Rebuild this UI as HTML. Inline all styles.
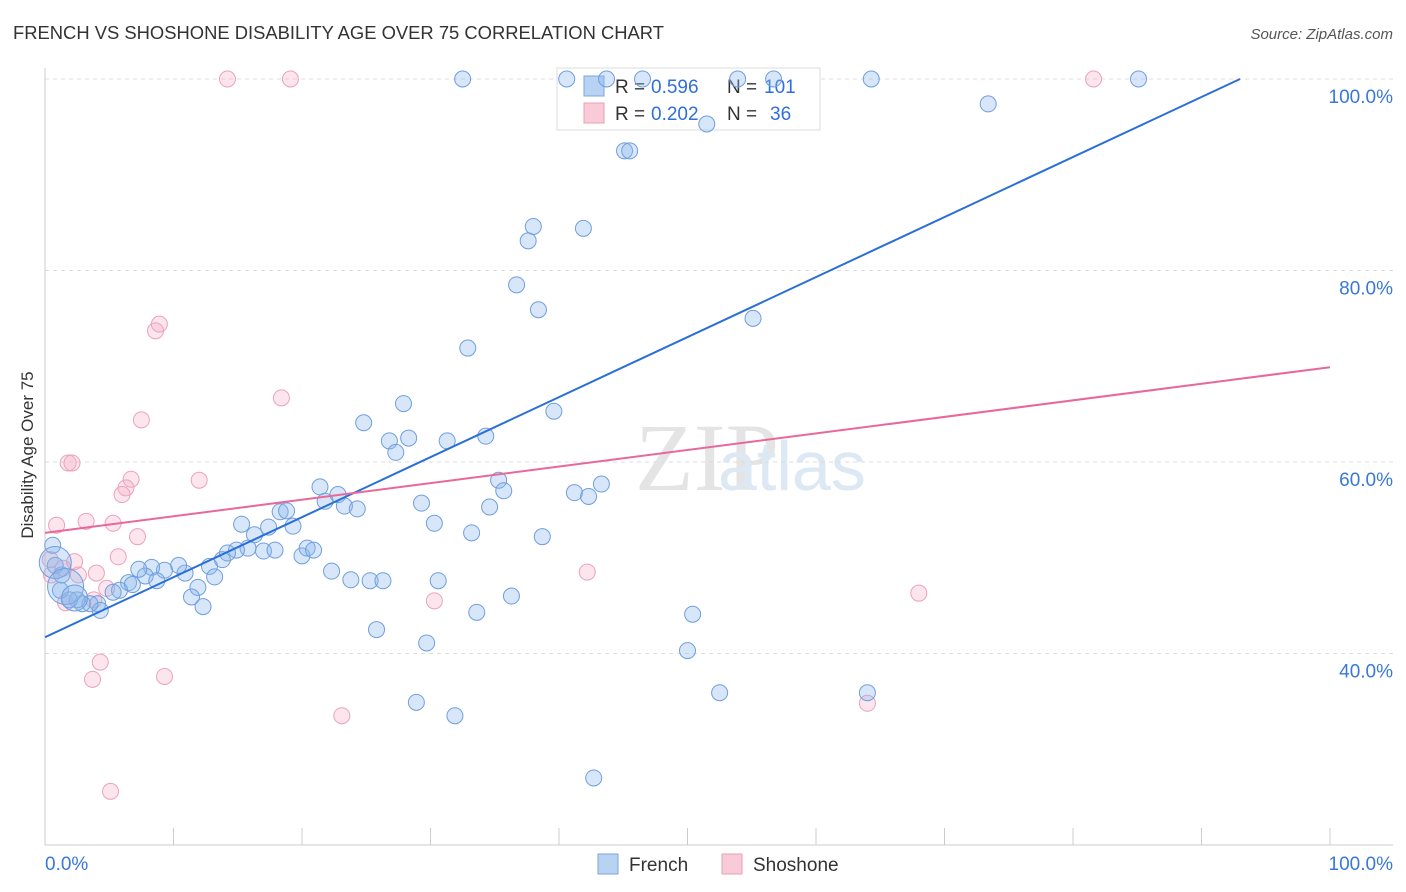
<!DOCTYPE html>
<html><head><meta charset="utf-8"><style>
body{margin:0;background:#fff;font-family:"Liberation Sans",sans-serif;}
svg{display:block}
</style></head><body>
<svg id="chart" width="1406" height="892">
<text x="13" y="39" font-size="18.4" fill="#333">FRENCH VS SHOSHONE DISABILITY AGE OVER 75 CORRELATION CHART</text>
<text x="1393" y="39" font-size="15" fill="#555" font-style="italic" text-anchor="end">Source: ZipAtlas.com</text>
<text x="33" y="455" font-size="17" fill="#333" transform="rotate(-90 33 455)" text-anchor="middle">Disability Age Over 75</text>
<text x="635" y="490" font-size="96" fill="#e4e4e4" font-family="Liberation Serif">ZIP</text>
<text x="718" y="490" font-size="70" fill="#dde8f5">atlas</text>
<g id="grid"></g><g id="axes"></g>
<g>
<rect x="557" y="68" width="263" height="62" fill="#fff" stroke="#ddd"/>
<rect x="584" y="76" width="20" height="20" fill="#b8d2f4" stroke="#7aa7e0"/>
<text x="615" y="93" font-size="19" fill="#333">R =</text><text x="651" y="93" font-size="19" fill="#2f6fd6">0.596</text>
<text x="727" y="93" font-size="19" fill="#333">N =</text><text x="764" y="93" font-size="19" fill="#2f6fd6">101</text>
<rect x="584" y="103" width="20" height="20" fill="#f9cad8" stroke="#e8a0b8"/>
<text x="615" y="120" font-size="19" fill="#333">R =</text><text x="651" y="120" font-size="19" fill="#2f6fd6">0.202</text>
<text x="727" y="120" font-size="19" fill="#333">N =</text><text x="770" y="120" font-size="19" fill="#2f6fd6">36</text>
</g>
<g id="pts"></g><g id="lines"></g>
<g><rect x="598" y="854" width="20" height="20" fill="#b8d2f4" stroke="#7aa7e0"/><text x="629" y="871" font-size="19" fill="#333">French</text></g>
<g><rect x="722" y="854" width="20" height="20" fill="#f9cad8" stroke="#e8a0b8"/><text x="753" y="871" font-size="19" fill="#333">Shoshone</text></g>
</svg>
<script>
const yTicks=[40,60,80,100];
const yTickLabels=["40.0%","60.0%","80.0%","100.0%"];
const xTickLabels=["0.0%","100.0%"];
const frenchX=[32.5,40.6,43.7,46.5,53.9,56.7,64.3,85.1,73.4,51.5,45.1,45.5,38.0,37.6,41.9,36.7,38.4,55.1,32.9,27.9,39.6,24.8,26.8,28.3,27.3,31.3,34.3,35.3,35.7,21.4,22.8,21.8,23.3,24.3,29.3,34.6,41.2,42.3,43.3,38.7,33.2,30.3,15.3,17.4,19.3,18.3,18.8,16.3,15.8,14.9,14.2,13.8,17.0,17.9,20.0,20.4,20.9,12.8,13.2,10.9,10.4,9.3,8.3,7.8,7.3,8.7,6.5,6.8,5.8,5.3,11.9,11.4,12.3,4.1,4.3,3.5,2.9,2.5,1.9,1.2,1.3,0.8,0.6,22.3,23.8,25.3,26.3,30.6,36.3,33.6,25.8,29.7,50.4,50.0,52.5,64.0,28.9,31.9,42.7,0.8,1.6,2.3];
const frenchY=[100,100,100,100,100,100,100,100,97.4,95.3,92.5,92.5,84.6,83.1,84.4,78.5,75.9,75.0,71.9,66.1,65.3,64.1,62.2,62.5,61.0,62.2,62.7,58.1,57.0,57.4,56.6,55.9,55.4,55.1,55.7,55.3,56.8,56.4,57.7,52.2,52.6,53.6,53.5,53.2,53.3,54.8,54.9,52.4,51.0,50.8,50.5,49.8,50.7,50.8,50.2,51.0,50.8,49.1,48.0,48.4,49.2,48.7,49.0,48.1,48.8,47.6,47.4,47.2,46.6,46.4,46.9,45.9,44.9,45.2,44.5,45.2,45.2,45.6,45.6,46.6,48.2,49.2,51.3,48.6,47.7,47.6,47.6,47.6,46.0,44.3,42.5,41.1,44.1,40.3,35.9,35.9,34.9,33.5,27.0,49.5,47.0,45.8];
const frenchR=[8,8,8,8,8,8,8,8,8,8,8,8,8,8,8,8,8,8,8,8,8,8,8,8,8,8,8,8,8,8,8,8,8,8,8,8,8,8,8,8,8,8,8,8,8,8,8,8,8,8,8,8,8,8,8,8,8,8,8,8,8,8,8,8,8,8,8,8,8,8,8,8,8,8,8,8,8,8,8,8,8,8,8,8,8,8,8,8,8,8,8,8,8,8,8,8,8,8,8,16,18,13];
const shoshoneX=[14.2,19.1,81.6,8.9,8.6,18.4,7.5,1.8,2.1,6.7,6.3,6.0,12.0,0.9,3.2,5.3,7.2,5.7,2.3,1.4,0.4,2.6,4.0,4.8,3.8,1.6,4.3,3.7,9.3,42.2,30.3,68.0,64.0,23.1,5.1,0.5];
const shoshoneY=[100,100,100,74.4,73.7,66.7,64.4,59.9,59.9,58.2,57.3,56.6,58.1,53.4,53.8,53.6,52.2,50.1,49.6,48.9,49.8,48.2,48.4,46.8,45.6,45.3,39.1,37.3,37.6,48.5,45.5,46.3,34.8,33.5,25.6,48.2];
const frenchLine=[41.7,100,93.0];
const shoshoneLine=[52.6,69.9];
const X0=45,X1=1330,Y100=79,PXPER=9.575;
const sx=v=>X0+(X1-X0)*v/100;
const sy=v=>Y100+(100-v)*PXPER;
const NS="http://www.w3.org/2000/svg";
function mk(tag,attrs,parent){const e=document.createElementNS(NS,tag);for(const k in attrs)e.setAttribute(k,attrs[k]);document.getElementById(parent).appendChild(e);return e;}
yTicks.forEach((t,i)=>{
 const l=mk('line',{x1:45,x2:1393,y1:sy(t),y2:sy(t),stroke:'#ddd','stroke-dasharray':'4,4'},'grid');
 
 
 const tx=mk('text',{x:1393,y:sy(t)+24,'font-size':19,fill:'#3a78d8','text-anchor':'end'},'grid');
 tx.textContent=yTickLabels[i];
 
 
});
const ax=mk('line',{x1:45,x2:1393,y1:845,y2:845,stroke:'#ccc'},'axes');


const ay=mk('line',{x1:45,x2:45,y1:68,y2:845,stroke:'#ccc'},'axes');


for(let i=0;i<=10;i++){
 const t=mk('line',{x1:sx(i*10),x2:sx(i*10),y1:828,y2:845,stroke:'#ccc'},'axes');
 
 
}
const xl0=mk('text',{x:45,y:870,'font-size':19,fill:'#3a78d8'},'axes');xl0.textContent=xTickLabels[0];


const xl1=mk('text',{x:1393,y:870,'font-size':19,fill:'#3a78d8','text-anchor':'end'},'axes');xl1.textContent=xTickLabels[1];


shoshoneX.forEach((x,i)=>{
 const c=mk('circle',{cx:sx(x),cy:sy(shoshoneY[i]),r:8,fill:'rgba(244,170,196,0.3)',stroke:'#eaa3bb','stroke-width':1},'pts');
 
 
});
frenchX.forEach((x,i)=>{
 const c=mk('circle',{cx:sx(x),cy:sy(frenchY[i]),r:frenchR[i],fill:'rgba(140,182,236,0.35)',stroke:'#6f9fdf','stroke-width':1},'pts');
 
 
});
const fl=mk('line',{x1:sx(0),y1:sy(frenchLine[0]),x2:sx(frenchLine[2]),y2:sy(frenchLine[1]),stroke:'#2a6fd8','stroke-width':2},'lines');


const sl=mk('line',{x1:sx(0),y1:sy(shoshoneLine[0]),x2:sx(100),y2:sy(shoshoneLine[1]),stroke:'#e8689a','stroke-width':2},'lines');


</script>
</body></html>
